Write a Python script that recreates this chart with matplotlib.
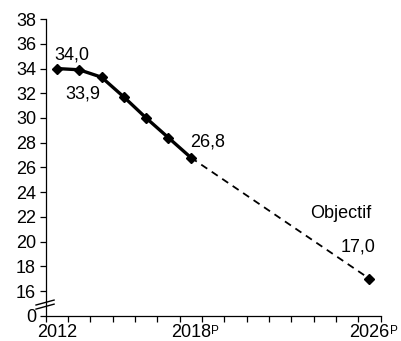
#!/usr/bin/env python3
"""Trajectory chart: historical values 2012-2018 and 2026 objective."""

import matplotlib
matplotlib.use("Agg")
import matplotlib.pyplot as plt
from matplotlib.lines import Line2D

plt.rcParams["font.family"] = ["Liberation Sans", "DejaVu Sans"]

years = list(range(2012, 2027))
hist_years = [2012, 2013, 2014, 2015, 2016, 2017, 2018]
hist_values = [34.0, 33.9, 33.3, 31.7, 30.0, 28.4, 26.8]
target_year = 2026
target_value = 17.0
ytick_values = [14, 16, 18, 20, 22, 24, 26, 28, 30, 32, 34, 36, 38]
ytick_labels = ["0"] + [str(v) for v in ytick_values[1:]]
xtick_labels = [(2012, "2012", ""), (2018, "2018", "P"), (2026, "2026", "P")]

FS = 13


def pos(year):
    return years.index(year)


fig = plt.figure(figsize=(4.01, 3.41), dpi=100)
ax = fig.add_axes([0.114, 0.074, 0.835, 0.870])

hx = [pos(y) for y in hist_years]
ax.plot(hx, hist_values, color="black", lw=2.4, marker="D", ms=5, zorder=3)
ax.plot([pos(2018), pos(target_year)], [hist_values[-1], target_value],
        color="black", lw=1.3, ls=(0, (4, 3)), zorder=2)
ax.plot([pos(target_year)], [target_value], color="black", marker="D", ms=5, zorder=3)

ax.text(pos(2012) + 0.68, 34.7, "34,0", ha="center", va="baseline", fontsize=FS)
ax.text(pos(2013) + 0.17, 31.55, "33,9", ha="center", va="baseline", fontsize=FS)
ax.text(pos(2018) + 0.77, 27.7, "26,8", ha="center", va="baseline", fontsize=FS)
ax.text(pos(target_year) - 1.3, 21.92, "Objectif", ha="center", va="baseline", fontsize=FS)
ax.text(pos(target_year) - 0.5, 19.22, "17,0", ha="center", va="baseline", fontsize=FS)

ax.set_xlim(-0.5, len(years) - 0.5)
ax.set_ylim(14, 38)
ax.set_yticks(ytick_values)
ax.set_yticklabels(ytick_labels, fontsize=FS)
ax.set_xticks([i - 0.5 for i in range(len(years) + 1)])
ax.set_xticklabels([])
for y, lab, sup in xtick_labels:
    t = ax.text(pos(y), -0.072, lab, transform=ax.get_xaxis_transform(),
                ha="center", va="baseline", fontsize=FS)
    if sup:
        ax.annotate(sup, xy=(1.0, 0.93), xycoords=t, ha="left", va="top",
                    fontsize=8.5, annotation_clip=False)

for s in ("top", "right"):
    ax.spines[s].set_visible(False)
ax.spines["left"].set_linewidth(0.9)
ax.spines["bottom"].set_linewidth(0.9)
ax.tick_params(axis="both", direction="out", length=4, width=0.9, pad=3)

# axis break mark
for dy in (0.0, 0.33):
    ln = Line2D([-0.029, 0.025], [14.54 + dy, 14.94 + dy], color="black", lw=1.0,
                transform=ax.get_yaxis_transform(), clip_on=False)
    ax.add_line(ln)

fig.savefig("out.png", dpi=100)
